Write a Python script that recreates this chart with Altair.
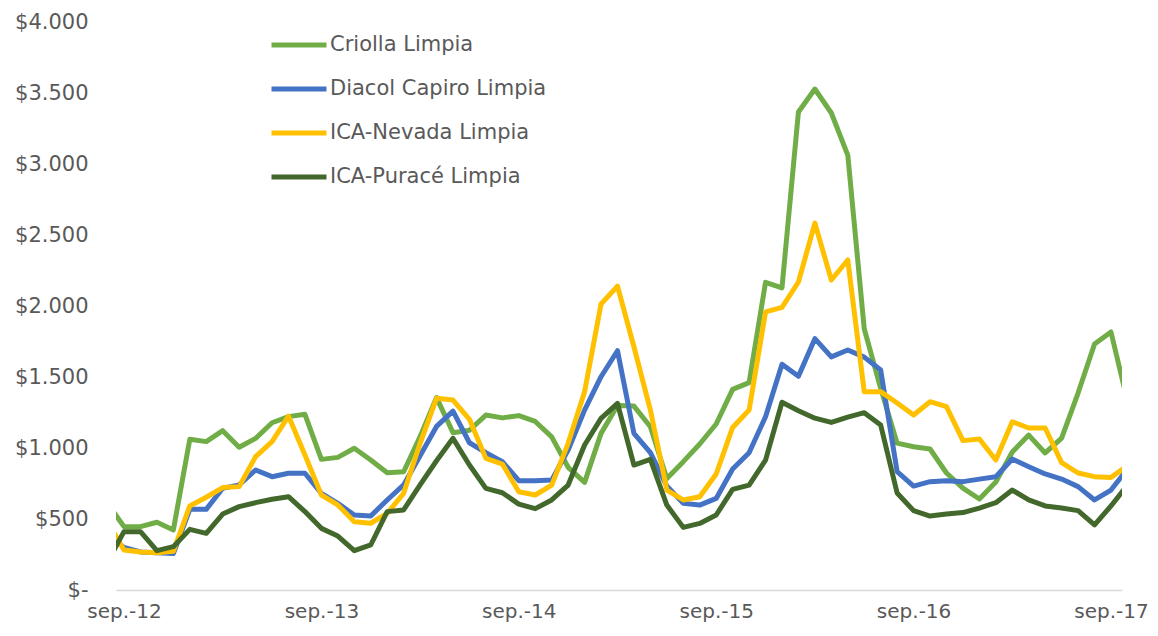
import json
import altair as alt
import pandas as pd

# month labels, aug.-12 .. oct.-17 (the first and last are only partly visible)
months = ["ago.-12",
          "sep.-12", "oct.-12", "nov.-12", "dic.-12", "ene.-13", "feb.-13", "mar.-13", "abr.-13", "may.-13", "jun.-13", "jul.-13", "ago.-13",
          "sep.-13", "oct.-13", "nov.-13", "dic.-13", "ene.-14", "feb.-14", "mar.-14", "abr.-14", "may.-14", "jun.-14", "jul.-14", "ago.-14",
          "sep.-14", "oct.-14", "nov.-14", "dic.-14", "ene.-15", "feb.-15", "mar.-15", "abr.-15", "may.-15", "jun.-15", "jul.-15", "ago.-15",
          "sep.-15", "oct.-15", "nov.-15", "dic.-15", "ene.-16", "feb.-16", "mar.-16", "abr.-16", "may.-16", "jun.-16", "jul.-16", "ago.-16",
          "sep.-16", "oct.-16", "nov.-16", "dic.-16", "ene.-17", "feb.-17", "mar.-17", "abr.-17", "may.-17", "jun.-17", "jul.-17", "ago.-17",
          "sep.-17", "oct.-17"]

criolla = [610,
           446, 446, 477, 423, 1061, 1045, 1122, 1005, 1068, 1178, 1221, 1237,
           920, 934, 998, 916, 826, 833, 1080, 1355, 1108, 1125, 1232, 1212,
           1228, 1187, 1078, 864, 758, 1103, 1300, 1295, 1150, 786, 904, 1028,
           1169, 1413, 1460, 2167, 2128, 3366, 3528, 3359, 3063, 1840, 1420, 1034,
           1009, 993, 824, 718, 641, 760, 972, 1091, 965, 1070, 1387, 1732,
           1817, 1330]

diacol = [390,
          300, 268, 262, 257, 568, 568, 716, 740, 845, 798, 822, 822,
          681, 610, 528, 521, 634, 740, 945, 1152, 1260, 1037, 967, 904,
          770, 770, 774, 986, 1267, 1502, 1685, 1103, 967, 732, 610, 598,
          645, 852, 967, 1220, 1590, 1505, 1770, 1642, 1690, 1640, 1549, 833,
          732, 763, 770, 763, 781, 798, 922, 868, 817, 781, 728, 634,
          704, 852]

nevada = [480,
          282, 268, 262, 272, 592, 653, 721, 728, 939, 1045, 1225, 951,
          669, 599, 481, 470, 540, 681, 1033, 1350, 1338, 1202, 927, 887,
          692, 669, 739, 1033, 1396, 2014, 2140, 1713, 1267, 704, 634, 657,
          817, 1145, 1267, 1958, 1990, 2169, 2584, 2183, 2324, 1397, 1397, 1317,
          1232, 1326, 1291, 1052, 1063, 915, 1185, 1141, 1141, 897, 824, 798,
          793, 875]

purace = [200,
          411, 411, 277, 305, 427, 399, 535, 587, 615, 639, 657, 552,
          434, 380, 277, 317, 552, 564, 740, 910, 1068, 880, 716, 685,
          605, 573, 634, 739, 1021, 1209, 1314, 880, 920, 598, 441, 469,
          528, 709, 739, 915, 1322, 1263, 1210, 1180, 1218, 1249, 1162, 683,
          559, 521, 535, 545, 577, 615, 704, 634, 592, 577, 559, 458,
          592, 739]

series = ["Criolla Limpia", "Diacol Capiro Limpia", "ICA-Nevada Limpia", "ICA-Puracé Limpia"]
colors = ["#70AD47", "#4472C4", "#FFC000", "#43682B"]
x_ticks = [0, 12, 24, 36, 48, 60]
x_tick_labels = ["sep.-12", "sep.-13", "sep.-14", "sep.-15", "sep.-16", "sep.-17"]
y_ticks = [0, 500, 1000, 1500, 2000, 2500, 3000, 3500, 4000]

rows = []
for name, vals in zip(series, [criolla, diacol, nevada, purace]):
    for k, (m, v) in enumerate(zip(months, vals)):
        rows.append({"t": k - 1, "mes": m, "serie": name, "precio": v})
df = pd.DataFrame(rows)

FONT = "DejaVu Sans"
GREY = "#595959"

label_map = json.dumps(dict(zip([str(v) for v in x_ticks], x_tick_labels)))

chart = alt.Chart(df).mark_line(clip=True, strokeWidth=5, strokeJoin="round").encode(
    x=alt.X("t:Q",
            scale=alt.Scale(domain=[-0.486, 60.67], nice=False, zero=False),
            axis=alt.Axis(title=None, values=x_ticks, labelExpr=f"{label_map}[''+datum.value]",
                          grid=False, ticks=False, domain=True, domainColor="#D9D9D9", domainWidth=1.5,
                          labelFont=FONT, labelFontSize=20, labelColor=GREY, labelPadding=11,
                          labelFlush=False, labelOverlap=False)),
    y=alt.Y("precio:Q",
            scale=alt.Scale(domain=[0, 4000], nice=False),
            axis=alt.Axis(title=None, values=y_ticks,
                          labelExpr="datum.value == 0 ? '$-' : '$' + replace(format(datum.value, ','), ',', '.')",
                          grid=False, ticks=False, domain=False,
                          labelFont=FONT, labelFontSize=21, labelColor=GREY, labelPadding=28)),
    color=alt.Color("serie:N",
                    scale=alt.Scale(domain=series, range=colors),
                    legend=alt.Legend(title=None, orient="none", legendX=153, legendY=-7,
                                      symbolType="stroke", symbolSize=3025, symbolStrokeWidth=5,
                                      labelFont=FONT, labelFontSize=21, labelColor=GREY,
                                      labelLimit=0, labelOffset=1, rowPadding=4, padding=0)),
    detail="serie:N",
).properties(
    width=1006,
    height=568,
    autosize=alt.AutoSizeParams(type="none"),
    padding={"left": 108, "top": 14, "right": 28, "bottom": 34},
    background="white",
).configure_view(stroke=None)

chart.save("out.html", embed_options={"renderer": "svg", "actions": False})
